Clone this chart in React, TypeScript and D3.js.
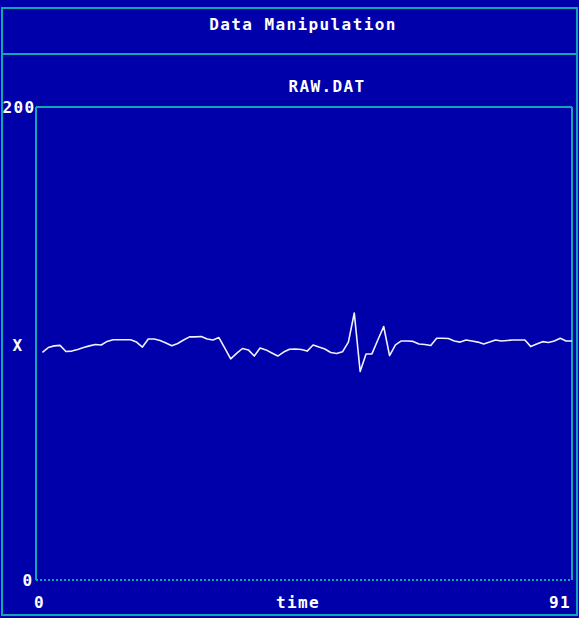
import * as d3 from 'd3';

const W = 579;
const H = 618;

const BG = '#0000AA';
const CYAN = '#10A8B0';
const FG = '#FFFFFF';

const title = 'Data Manipulation';
const fileName = 'RAW.DAT';
const xLabel = 'time';
const yLabel = 'X';
const xDomain = [0, 91];
const yDomain = [0, 200];

// samples at t = 1..91
const rawValues = [
  96.5, 98.5, 99.2, 99.4, 96.8, 97.0, 97.7, 98.5, 99.2, 99.8,
  99.6, 101.1, 101.8, 101.8, 101.8, 101.8, 100.8, 98.7, 102.1, 102.1,
  101.5, 100.4, 99.3, 100.2, 101.7, 103.0, 103.0, 103.2, 102.1, 101.7,
  102.7, 98.3, 93.7, 96.0, 98.1, 97.5, 94.9, 98.3, 97.5, 96.2,
  94.9, 96.6, 97.8, 97.9, 97.7, 97.0, 99.6, 98.7, 97.9, 96.4,
  96.0, 96.7, 100.8, 113.1, 88.4, 95.8, 95.8, 101.7, 107.4, 95.1,
  99.6, 101.3, 101.3, 101.1, 100.0, 99.8, 99.4, 102.4, 102.4, 102.3,
  101.3, 100.8, 101.7, 101.3, 100.8, 100.0, 100.8, 101.7, 101.3, 101.5,
  101.7, 101.7, 101.7, 98.9, 100.0, 101.0, 100.6, 101.3, 102.4, 101.3,
  101.3,
];
const samples = rawValues.map((v, i) => ({ t: i + 1, v }));

const font = {
  fontFamily: '"DejaVu Sans Mono", monospace',
  fontWeight: 'bold' as const,
  fontSize: 16,
  letterSpacing: 1.4,
};

export default function App() {
  const left = 36;
  const right = 572;
  const top = 107;
  const bottom = 580;

  const x = d3.scaleLinear().domain(xDomain).range([left + 0.5, right]);
  const y = d3.scaleLinear().domain(yDomain).range([bottom + 0.5, top + 0.5]);

  const line = d3
    .line<{ t: number; v: number }>()
    .x(d => x(d.t))
    .y(d => y(d.v));

  const frame = { stroke: CYAN, strokeWidth: 2, shapeRendering: 'crispEdges' as const };

  return (
    <div style={{ position: 'fixed', left: 0, top: 0, width: W, height: H, background: BG }}>
      <svg width={W} height={H} style={{ display: 'block' }}>
        <rect width={W} height={H} fill={BG} />
        {/* outer frame + header */}
        <rect x={2} y={8} width={575} height={607} fill="none" {...frame} />
        <line x1={2} x2={577} y1={54} y2={54} {...frame} />
        <text x={303} y={24} dy="0.35em" textAnchor="middle" fill={FG} style={font}>
          {title}
        </text>
        <text x={327} y={86} dy="0.35em" textAnchor="middle" fill={FG} style={font}>
          {fileName}
        </text>

        {/* plot frame */}
        <line x1={left} x2={left} y1={top} y2={bottom} {...frame} />
        <line x1={right} x2={right} y1={top} y2={bottom} {...frame} />
        <line x1={left} x2={right} y1={top} y2={top} {...frame} />
        <line x1={left} x2={right} y1={bottom} y2={bottom} {...frame} strokeDasharray="2 2" />

        {/* y axis labels */}
        <text x={19} y={y(yDomain[1])} dy="0.35em" textAnchor="middle" fill={FG} style={font}>
          {yDomain[1]}
        </text>
        <text x={28} y={y(yDomain[0])} dy="0.35em" textAnchor="middle" fill={FG} style={font}>
          {yDomain[0]}
        </text>
        <text x={18} y={345} dy="0.35em" textAnchor="middle" fill={FG} style={font}>
          {yLabel}
        </text>

        {/* x axis labels */}
        <text x={x(xDomain[0]) + 3} y={602} dy="0.35em" textAnchor="middle" fill={FG} style={font}>
          {xDomain[0]}
        </text>
        <text x={298} y={602} dy="0.35em" textAnchor="middle" fill={FG} style={font}>
          {xLabel}
        </text>
        <text x={x(xDomain[1]) - 12} y={602} dy="0.35em" textAnchor="middle" fill={FG} style={font}>
          {xDomain[1]}
        </text>

        <path d={line(samples) ?? ''} fill="none" stroke="#F0F0FF" strokeWidth={1.6} strokeLinejoin="round" />
      </svg>
    </div>
  );
}
